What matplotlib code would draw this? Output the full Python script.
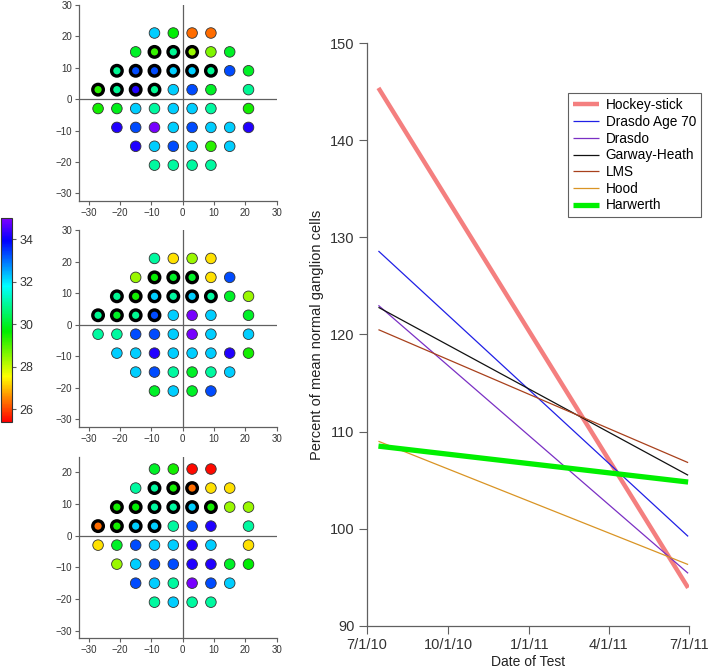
#!/usr/bin/env python3
"""
Visual field maps (three tests) plus the trend of percent ganglion cells
for each structure-function model.
"""

from datetime import date

import matplotlib
matplotlib.use("Agg")
import matplotlib.pyplot as plt
from matplotlib.colors import LinearSegmentedColormap, Normalize
from matplotlib.colorbar import ColorbarBase

plt.rcParams["font.family"] = ["Liberation Sans", "DejaVu Sans"]

# === Visual field test points (degrees) ===
FIELD_X = [-9, -3, 3, 9,
           -15, -9, -3, 3, 9, 15,
           -21, -15, -9, -3, 3, 9, 15, 21,
           -27, -21, -15, -9, -3, 3, 9, 21,
           -27, -21, -15, -9, -3, 3, 9, 21,
           -21, -15, -9, -3, 3, 9, 15, 21,
           -15, -9, -3, 3, 9, 15,
           -9, -3, 3, 9]
FIELD_Y = [21] * 4 + [15] * 6 + [9] * 8 + [3] * 8 + [-3] * 8 + [-9] * 8 + [-15] * 6 + [-21] * 4

# points drawn with a heavy outline
THICK_POINTS = [(-9, 15), (-3, 15), (3, 15),
                (-21, 9), (-15, 9), (-9, 9), (-3, 9), (3, 9), (9, 9),
                (-27, 3), (-21, 3), (-15, 3), (-9, 3)]

# sensitivities (dB), same order as FIELD_X / FIELD_Y
FIELD_TOP = [32.2, 29.7, 26.3, 26.3,
             30.0, 29.2, 30.9, 28.4, 28.6, 30.0,
             30.9, 33.3, 33.3, 32.2, 32.2, 30.9, 33.3, 30.0,
             29.3, 30.9, 34.2, 30.9, 32.2, 33.3, 30.0, 30.9,
             29.5, 29.9, 32.2, 31.0, 32.2, 32.2, 31.0, 29.5,
             34.2, 33.3, 34.9, 32.2, 33.3, 32.2, 32.2, 34.2,
             34.2, 32.2, 33.3, 32.2, 29.3, 32.2,
             31.0, 31.0, 31.0, 31.0]
FIELD_MID = [31.0, 27.3, 28.4, 27.3,
             28.4, 29.6, 30.0, 30.0, 27.3, 33.3,
             30.9, 29.5, 32.2, 31.0, 32.2, 31.0, 30.0, 28.4,
             30.9, 30.0, 30.9, 33.3, 32.2, 34.9, 32.2, 30.0,
             31.0, 31.0, 33.3, 33.3, 32.2, 34.9, 32.2, 32.2,
             32.2, 32.2, 34.2, 32.2, 32.2, 32.2, 34.2, 29.5,
             32.2, 33.3, 31.0, 30.0, 31.0, 32.2,
             30.0, 32.2, 30.0, 33.3]
FIELD_BOT = [30.0, 29.5, 25.5, 25.5,
             31.0, 31.0, 29.5, 26.3, 27.3, 27.3,
             29.5, 29.7, 31.0, 31.0, 32.2, 29.5, 28.4, 28.4,
             26.3, 29.5, 32.2, 32.2, 31.0, 33.3, 34.2, 31.0,
             27.3, 30.0, 33.3, 32.2, 32.2, 34.2, 32.2, 27.3,
             28.4, 32.2, 33.3, 33.3, 34.2, 34.2, 30.0, 29.7,
             33.3, 32.2, 31.0, 34.9, 33.3, 32.2,
             31.0, 32.2, 31.0, 31.0]

CBAR_TICKS = [26, 28, 30, 32, 34]
VMIN, VMAX = 25.4, 35.0

# === Trend lines: (first test, last test) ===
DATE_START = date(2010, 7, 14)
DATE_END = date(2011, 6, 30)
MODELS = ["Hockey-stick", "Drasdo Age 70", "Drasdo", "Garway-Heath", "LMS", "Hood", "Harwerth"]
START_PCT = [145.4, 128.6, 123.0, 122.8, 120.5, 109.0, 108.5]
END_PCT = [93.9, 99.2, 95.4, 105.5, 106.8, 96.3, 104.8]
MODEL_COLORS = ["#f47f7f", "#2020e6", "#7a2fc4", "#111111", "#a8401c", "#d99424", "#00f000"]
MODEL_WIDTHS = [3.2, 0.9, 0.9, 0.9, 0.9, 0.9, 3.8]

DATE_TICKS = [date(2010, 7, 1), date(2010, 10, 1), date(2011, 1, 1), date(2011, 4, 1), date(2011, 7, 1)]
DATE_LABELS = ["7/1/10", "10/1/10", "1/1/11", "4/1/11", "7/1/11"]

AXIS_GRAY = "#606060"

rainbow = LinearSegmentedColormap.from_list(
    "igor_rainbow",
    [(0.0, "#ff0000"), (0.222, "#ffff00"), (0.444, "#00ee00"),
     (0.667, "#00ffff"), (0.889, "#0000ff"), (1.0, "#8000ff")])
norm = Normalize(VMIN, VMAX)


def style_axis(ax, fontsize):
    for side in ("top", "right"):
        ax.spines[side].set_visible(False)
    for side in ("left", "bottom"):
        ax.spines[side].set_color(AXIS_GRAY)
        ax.spines[side].set_linewidth(0.9)
    ax.tick_params(direction="out", length=3, width=0.8, color=AXIS_GRAY,
                   labelsize=fontsize, labelcolor="#333333", pad=2)


def draw_field(fig, rect, values, ylim, yticks):
    ax = fig.add_axes(rect)
    ax.set_xlim(-33, 30)
    ax.set_ylim(*ylim)
    ax.axhline(0, color=AXIS_GRAY, lw=0.9, zorder=1)
    ax.axvline(0, color=AXIS_GRAY, lw=0.9, zorder=1)

    thin = [i for i in range(len(FIELD_X)) if (FIELD_X[i], FIELD_Y[i]) not in THICK_POINTS]
    thick = [i for i in range(len(FIELD_X)) if (FIELD_X[i], FIELD_Y[i]) in THICK_POINTS]

    ax.scatter([FIELD_X[i] for i in thin], [FIELD_Y[i] for i in thin],
               c=[values[i] for i in thin], cmap=rainbow, norm=norm,
               s=58, edgecolors="#333333", linewidths=0.6, zorder=3)
    ax.scatter([FIELD_X[i] for i in thick], [FIELD_Y[i] for i in thick],
               c=[values[i] for i in thick], cmap=rainbow, norm=norm,
               s=58, edgecolors="black", linewidths=2.4, zorder=3)

    ax.set_xticks(range(-30, 31, 10))
    ax.set_yticks(yticks)
    style_axis(ax, 7)
    ax.set_xticklabels([str(t).replace("-", "\u2212") for t in range(-30, 31, 10)])
    ax.set_yticklabels([str(t).replace("-", "\u2212") for t in yticks])
    return ax


fig = plt.figure(figsize=(7.09, 6.71), dpi=100)

draw_field(fig, [0.1118, 0.7004, 0.2785, 0.2926], FIELD_TOP, (-32.4, 30), range(-30, 31, 10))
draw_field(fig, [0.1118, 0.3641, 0.2785, 0.2931], FIELD_MID, (-32.3, 30), range(-30, 31, 10))
draw_field(fig, [0.1118, 0.0487, 0.2785, 0.2707], FIELD_BOT, (-32.4, 24.9), range(-30, 21, 10))

# colour scale
cax = fig.add_axes([0.0015, 0.3711, 0.016, 0.304])
cb = ColorbarBase(cax, cmap=rainbow, norm=norm, ticks=CBAR_TICKS)
cb.outline.set_edgecolor("#333333")
cb.outline.set_linewidth(0.8)
cax.tick_params(direction="out", length=3, width=0.8, color=AXIS_GRAY,
                labelsize=9, labelcolor="#333333", pad=2)

# trend lines
ax = fig.add_axes([0.5176, 0.0675, 0.4542, 0.868])
for name, y0, y1, col, lw in zip(MODELS, START_PCT, END_PCT, MODEL_COLORS, MODEL_WIDTHS):
    ax.plot([DATE_START, DATE_END], [y0, y1], color=col, lw=lw, label=name,
            solid_capstyle="butt")

ax.set_xlim(DATE_TICKS[0], DATE_TICKS[-1])
ax.set_ylim(90, 150)
ax.set_xticks(DATE_TICKS)
ax.set_xticklabels(DATE_LABELS)
ax.set_yticks(range(90, 151, 10))
style_axis(ax, 10.5)
ax.tick_params(length=6, pad=3)
ax.set_xlabel("Date of Test", fontsize=10, color="#222222", labelpad=2)
ax.set_ylabel("Percent of mean normal ganglion cells", fontsize=10.5, color="#222222", labelpad=4)

leg = ax.legend(loc="upper left", bbox_to_anchor=(0.625, 0.914), borderaxespad=0,
                fontsize=9.8, fancybox=False, handlelength=1.9, handletextpad=0.5,
                labelspacing=0.2, borderpad=0.35, framealpha=1)
leg.get_frame().set_edgecolor(AXIS_GRAY)
leg.get_frame().set_linewidth(0.8)

plt.savefig("out.png", dpi=100)
